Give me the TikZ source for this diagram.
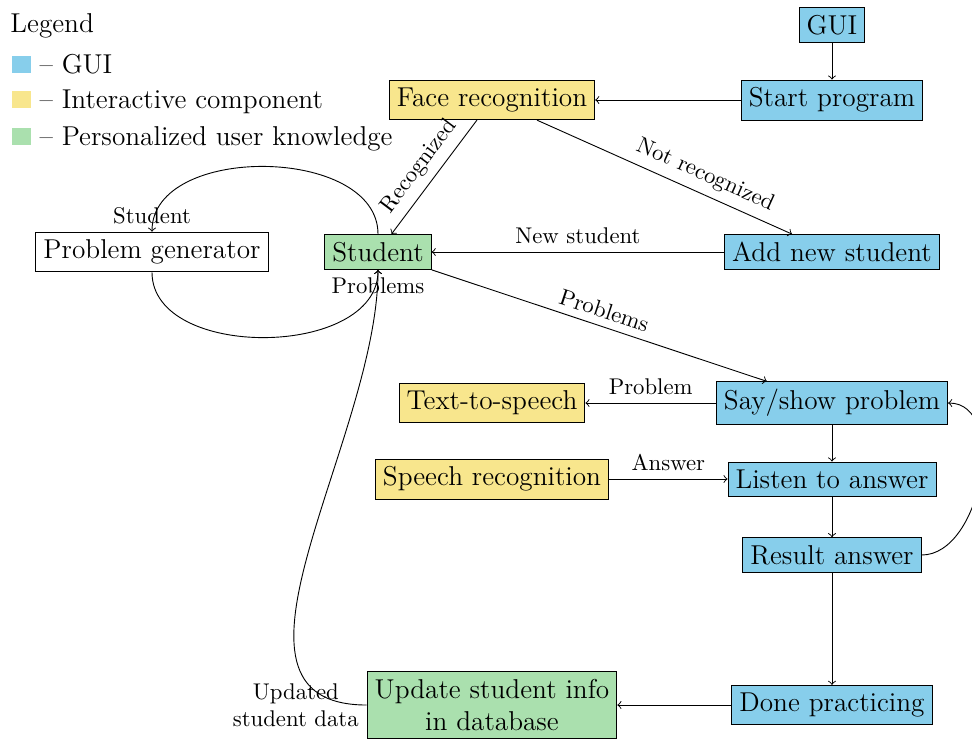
\documentclass[tikz,border=0pt]{standalone}
\definecolor{guiblue}{RGB}{135,206,235}
\definecolor{interyellow}{RGB}{248,230,141}
\definecolor{usergreen}{RGB}{170,224,174}
\begin{document}
\begin{tikzpicture}[x=0.44pt,y=0.44pt,
  box/.style={draw, font=\large},
  gui/.style={box, fill=guiblue},
  inter/.style={box, fill=interyellow},
  know/.style={box, fill=usergreen},
  lbl/.style={font=\normalsize},
  legtext/.style={anchor=base west, inner sep=0pt, font=\large},
  conn/.style={draw, ->}]
\useasboundingbox (0,0) rectangle (972,-740);
% legend
\node[legtext] (leg) at (10,-32) {Legend};
\node[legtext] (l1) at (12,-73) {\textcolor{guiblue}{\rule{8pt}{7.5pt}} -- GUI};
\node[legtext] (l2) at (12,-108) {\textcolor{interyellow}{\rule{8pt}{7.5pt}} -- Interactive component};
\node[legtext] (l3) at (12,-145) {\textcolor{usergreen}{\rule{8pt}{7.5pt}} -- Personalized user knowledge};
% nodes
\node[gui] (gui) at (832,-25) {GUI};
\node[gui] (start) at (832,-100) {Start program};
\node[inter] (face) at (492,-100) {Face recognition};
\node[know] (stud) at (378,-252) {Student};
\node[box] (pgen) at (152,-252) {Problem generator};
\node[gui] (addnew) at (832,-252) {Add new student};
\node[gui] (say) at (832,-403) {Say/show problem};
\node[inter] (tts) at (492,-403) {Text-to-speech};
\node[inter] (speech) at (492,-479) {Speech recognition};
\node[gui] (listen) at (832,-479) {Listen to answer};
\node[gui] (result) at (832,-555) {Result answer};
\node[gui] (done) at (832,-705) {Done practicing};
\node[know, align=center] (update) at (492,-705) {Update student info\\in database};
% connectors
\draw[conn] (gui) -- (start);
\draw[conn] (start) -- (face);
\draw[conn] (face) -- node[lbl, sloped, above] {Recognized} (stud);
\draw[conn] (face) -- node[lbl, sloped, above, pos=0.63] {Not recognized} (addnew);
\draw[conn] (addnew) -- node[lbl, above] {New student} (stud);
\draw[conn] (stud) -- node[lbl, sloped, above] {Problems} (say);
\draw[conn] (say) -- node[lbl, above] {Problem} (tts);
\draw[conn] (speech) -- node[lbl, above] {Answer} (listen);
\draw[conn] (say) -- (listen);
\draw[conn] (listen) -- (result);
\draw[conn] (result) -- (done);
\draw[conn] (done) -- (update);
\draw[conn] (result.east) to[out=0,in=0] (say.east);
\draw[conn] (stud.north) to[out=90,in=90] node[lbl, pos=1, above] {Student} (pgen.north);
\draw[conn] (pgen.south) to[out=-90,in=-90] node[lbl, pos=1, below] {Problems} (stud.south);
\draw[conn] (update.west) to[out=180,in=-90] node[lbl, pos=0, left, align=center] {Updated\\student data} (stud.south);
\end{tikzpicture}
\end{document}
